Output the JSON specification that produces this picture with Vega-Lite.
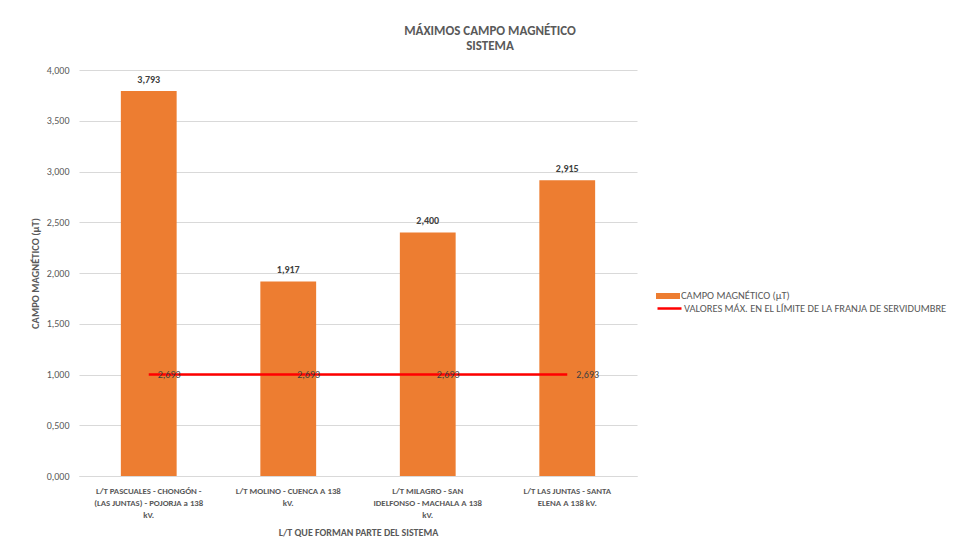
{
  "$schema": "https://vega.github.io/schema/vega-lite/v6.json",
  "width": 558,
  "height": 406,
  "autosize": {"type": "none"},
  "padding": {"left": 79, "top": 70, "right": 320, "bottom": 77},
  "background": "white",
  "config": {
    "font": "Carlito, Lato, sans-serif",
    "view": {"stroke": null},
    "locale": {"number": {"decimal": ",", "thousands": ".", "grouping": [3], "currency": ["$", ""]}}
  },
  "title": {
    "text": ["MÁXIMOS CAMPO MAGNÉTICO", "SISTEMA"],
    "anchor": "middle",
    "frame": "group",
    "dx": 132,
    "offset": 12,
    "fontSize": 13,
    "fontWeight": "bold",
    "color": "#595959",
    "lineHeight": 15
  },
  "data": {
    "values": [
      {"linea": "L/T PASCUALES - CHONGÓN -\n(LAS JUNTAS) - POJORJA a 138\nkV.", "campo": 3.793, "limite": 1.0, "etiqueta": "2,693"},
      {"linea": "L/T MOLINO - CUENCA A 138\nkV.", "campo": 1.917, "limite": 1.0, "etiqueta": "2,693"},
      {"linea": "L/T  MILAGRO - SAN\nIDELFONSO - MACHALA A 138\nkV.", "campo": 2.4, "limite": 1.0, "etiqueta": "2,693"},
      {"linea": "L/T  LAS JUNTAS - SANTA\nELENA A 138 kV.", "campo": 2.915, "limite": 1.0, "etiqueta": "2,693"}
    ]
  },
  "encoding": {
    "x": {
      "field": "linea",
      "type": "nominal",
      "sort": null,
      "scale": {"paddingInner": 0.6, "paddingOuter": 0.3},
      "axis": {
        "title": "L/T QUE FORMAN PARTE DEL SISTEMA",
        "titleFontSize": 10,
        "titleFontWeight": "bold",
        "titleColor": "#595959",
        "titlePadding": 9,
        "labelExpr": "split(datum.label, '\\n')",
        "labelAngle": 0,
        "labelFontSize": 8.8,
        "labelFontWeight": "bold",
        "labelColor": "#595959",
        "labelLineHeight": 12,
        "labelPadding": 10,
        "labelLimit": 0,
        "ticks": false,
        "domainColor": "#d9d9d9",
        "domainWidth": 1
      }
    }
  },
  "layer": [
    {
      "mark": {"type": "bar"},
      "encoding": {
        "y": {
          "field": "campo",
          "type": "quantitative",
          "scale": {"domain": [0, 4]},
          "axis": {
            "title": "CAMPO MAGNÉTICO (µT)",
            "titleFontSize": 10.5,
            "titleFontWeight": "bold",
            "titleColor": "#595959",
            "titlePadding": 6,
            "values": [0, 0.5, 1, 1.5, 2, 2.5, 3, 3.5, 4],
            "format": ".3f",
            "labelFontSize": 10,
            "labelColor": "#595959",
            "labelPadding": 10,
            "ticks": false,
            "domain": false,
            "grid": true,
            "gridColor": "#d9d9d9",
            "gridWidth": 1
          }
        },
        "fill": {
          "datum": "CAMPO MAGNÉTICO (µT)",
          "scale": {"range": ["#ED7D31"]},
          "legend": {
            "title": null,
            "orient": "none",
            "legendX": 577,
            "legendY": 214,
            "padding": 0,
            "symbolType": "M-1,-0.25H1V0.25H-1Z",
            "symbolSize": 576,
            "symbolStrokeWidth": 0,
            "labelFontSize": 10.5,
            "labelColor": "#595959",
            "labelOffset": 1,
            "labelLimit": 0
          }
        }
      }
    },
    {
      "mark": {"type": "text", "baseline": "bottom", "dy": -6, "fontSize": 10, "fontWeight": "bold", "color": "#404040"},
      "encoding": {
        "y": {"field": "campo", "type": "quantitative"},
        "text": {"field": "campo", "type": "quantitative", "format": ".3f"}
      }
    },
    {
      "mark": {"type": "line", "strokeWidth": 2.5},
      "encoding": {
        "y": {"field": "limite", "type": "quantitative"},
        "stroke": {
          "datum": "VALORES MÁX. EN  EL LÍMITE DE LA FRANJA DE SERVIDUMBRE",
          "scale": {"range": ["#FF0000"]},
          "legend": {
            "title": null,
            "orient": "none",
            "legendX": 577,
            "legendY": 225,
            "padding": 0,
            "symbolType": "stroke",
            "symbolSize": 576,
            "symbolStrokeWidth": 2.5,
            "labelFontSize": 10.5,
            "labelColor": "#595959",
            "labelOffset": 1,
            "labelLimit": 0
          }
        }
      }
    },
    {
      "mark": {"type": "text", "align": "left", "baseline": "middle", "dx": 9, "fontSize": 10, "color": "#404040"},
      "encoding": {
        "y": {"field": "limite", "type": "quantitative"},
        "text": {"field": "etiqueta", "type": "nominal"}
      }
    }
  ]
}
